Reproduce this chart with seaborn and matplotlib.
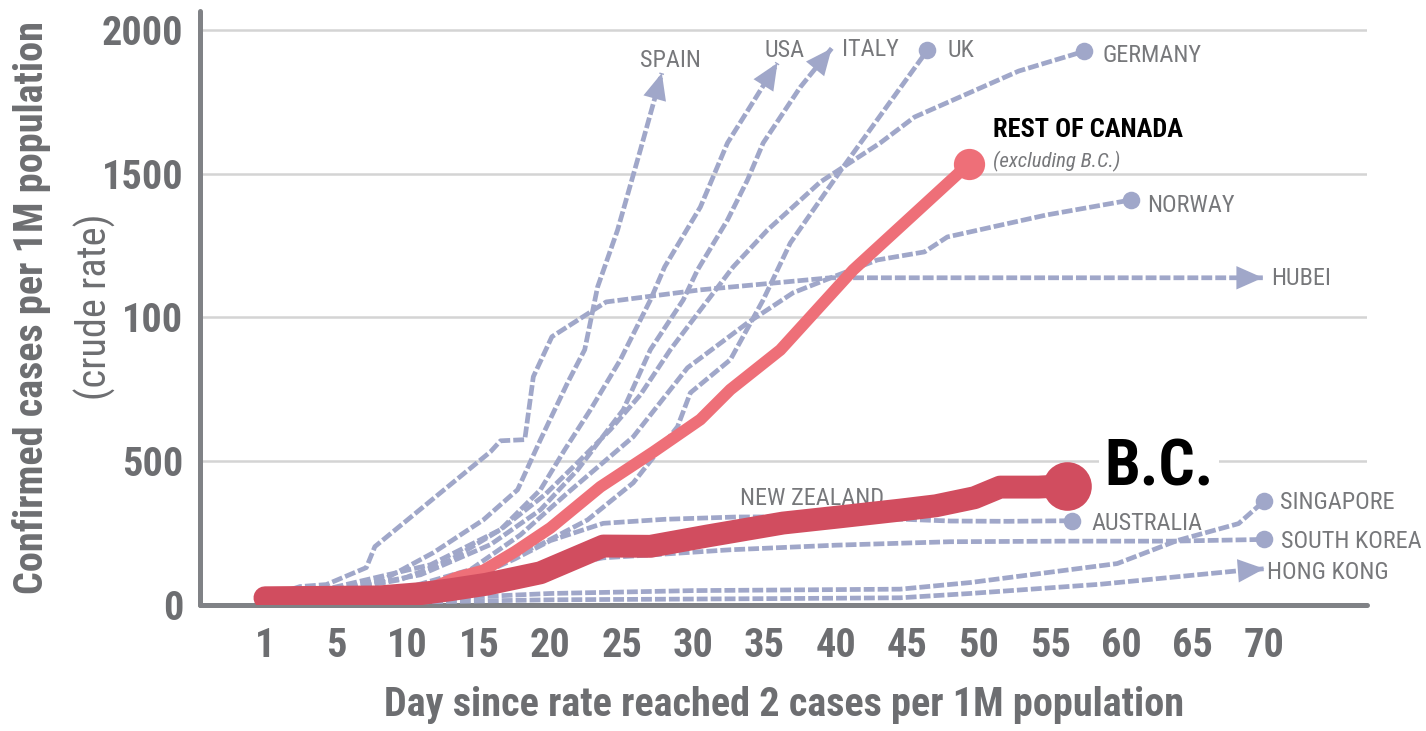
import matplotlib
matplotlib.use("Agg")
import matplotlib.pyplot as plt
import seaborn as sns
import pandas as pd
from matplotlib import font_manager as fm

# ---------------- data ----------------
x_ticks = [0, 5, 10, 15, 20, 25, 30, 35, 40, 45, 50, 55, 60, 65, 70]
x_tick_labels = ["1", "5", "10", "15", "20", "25", "30", "35", "40", "45", "50", "55", "60", "65", "70"]
y_ticks = [0, 500, 1000, 1500, 2000]
y_tick_labels = ["0", "500", "100", "1500", "2000"]

spain_day = [0, 8.3, 11.8, 15.3, 17.7, 19.3, 21.2, 22.4, 23.3, 24.7, 26.3, 27.8]
spain_rate = [5, 88, 182, 296, 401, 575, 773, 888, 1106, 1304, 1583, 1850]

usa_day = [0, 9.5, 13.0, 16.5, 19.3, 21.0, 22.8, 24.9, 27.0, 28.0, 30.5, 32.4, 35.9]
usa_rate = [5, 88, 157, 262, 401, 540, 679, 853, 1061, 1176, 1384, 1607, 1885]

italy_day = [0, 10.9, 15.8, 19.3, 21.9, 23.5, 25.1, 27.0, 29.3, 30.3, 32.4, 33.8, 34.9, 37.5, 39.7]
italy_rate = [5, 105, 210, 331, 470, 575, 679, 888, 1061, 1165, 1339, 1478, 1607, 1801, 1936]

uk_day = [0, 9.5, 15.1, 19.3, 22.6, 25.8, 28.9, 29.8, 32.6, 34.9, 36.8, 40.5, 46.4]
uk_rate = [5, 53, 123, 210, 296, 425, 620, 738, 853, 1061, 1259, 1523, 1929]

germany_day = [0, 11.6, 16.5, 19.6, 22.1, 24.2, 26.3, 28.4, 30.5, 32.8, 35.2, 38.9, 43.1, 45.5, 52.8, 57.4]
germany_rate = [5, 140, 262, 383, 505, 610, 731, 888, 1026, 1176, 1304, 1471, 1607, 1697, 1857, 1926]

norway_day = [0, 9.5, 14.4, 17.9, 21.2, 25.8, 29.6, 33.8, 37.0, 39.8, 42.9, 46.2, 47.8, 54.7, 60.7]
norway_rate = [5, 53, 123, 244, 390, 585, 825, 981, 1086, 1141, 1200, 1228, 1280, 1356, 1409]

hubei_day = [0, 2.45, 4.3, 7.1, 7.7, 15.8, 16.5, 18.2, 18.8, 20.1, 23.9, 30.5, 39.6, 69.9]
hubei_rate = [25, 64, 71, 130, 203, 533, 571, 575, 794, 933, 1054, 1096, 1138, 1138]

nz_day = [0, 10, 15, 20, 24, 28, 33, 38, 43, 46]
nz_rate = [5, 25, 60, 140, 200, 208, 248, 280, 310, 322]

aus_day = [0, 9.5, 14.4, 17.5, 20.0, 23.7, 28.0, 33.0, 40.0, 48.0, 52.0, 56.5]
aus_rate = [5, 40, 90, 160, 224, 284, 298, 306, 307, 292, 291, 293]

sing_day = [0, 10, 20, 30, 44.5, 49.4, 59.7, 63.9, 68.2, 70.0]
sing_rate = [5, 18, 40, 50, 55, 78, 144, 224, 283, 362]

sk_day = [0, 10, 15, 19, 23.7, 27, 32.6, 40, 48, 56, 63.5, 70]
sk_rate = [5, 30, 70, 120, 164, 174, 192, 208, 220, 222, 222, 228]

hk_day = [0, 10, 20, 35, 44.5, 49.4, 58.5, 68.2, 70.0]
hk_rate = [3, 10, 18, 22, 25, 40, 72, 119, 126]

roc_day = [0, 8, 11, 13.4, 15.3, 17.5, 20, 23.5, 27.2, 30.5, 32.6, 36.1, 41.2, 49.3]
roc_rate = [25, 30, 45, 95, 120, 185, 268, 411, 532, 645, 749, 887, 1165, 1534]

bc_day = [0, 8, 11, 13, 15.5, 19.3, 23.7, 27, 31, 36.3, 40, 44.5, 47, 49.7, 51.5, 54.2, 56.2]
bc_rate = [25, 28, 40, 53, 72, 112, 205, 204, 240, 285, 305, 330, 345, 373, 410, 410, 415]

countries = {
    "SPAIN": (spain_day, spain_rate),
    "USA": (usa_day, usa_rate),
    "ITALY": (italy_day, italy_rate),
    "UK": (uk_day, uk_rate),
    "GERMANY": (germany_day, germany_rate),
    "NORWAY": (norway_day, norway_rate),
    "HUBEI": (hubei_day, hubei_rate),
    "NEW ZEALAND": (nz_day, nz_rate),
    "AUSTRALIA": (aus_day, aus_rate),
    "SINGAPORE": (sing_day, sing_rate),
    "SOUTH KOREA": (sk_day, sk_rate),
    "HONG KONG": (hk_day, hk_rate),
}
arrow_end = ["SPAIN", "USA", "ITALY", "HUBEI", "HONG KONG"]
dot_end = ["UK", "GERMANY", "NORWAY", "AUSTRALIA", "SINGAPORE", "SOUTH KOREA"]

# label placement (data coords)
label_pos = {
    "SPAIN": (26.3, 1904), "USA": (35.0, 1937), "ITALY": (40.4, 1940), "UK": (47.8, 1937),
    "GERMANY": (58.7, 1921), "NORWAY": (61.8, 1398), "HUBEI": (70.5, 1145),
    "NEW ZEALAND": (33.3, 380), "AUSTRALIA": (57.9, 293), "SINGAPORE": (71.1, 366),
    "SOUTH KOREA": (71.2, 230), "HONG KONG": (70.2, 123),
}

# ---------------- style ----------------
sns.set_style("white")
avail = {f.name for f in fm.fontManager.ttflist}
cond = None
for n in ["Liberation Sans Narrow", "Roboto Condensed", "Open Sans Condensed",
          "Noto Sans Condensed", "DejaVu Sans Condensed"]:
    if n in avail:
        cond = n
        break
if cond is None:
    plt.rcParams["font.stretch"] = "condensed"
    cond = "DejaVu Sans"
plt.rcParams["font.family"] = [cond, "DejaVu Sans"]

LAV = "#a0a7c9"
ROC = "#ee6f78"
BC = "#d14d5f"
GRAY = "#6d6e71"
LGRAY = "#77787b"
AX = "#808286"

fig = plt.figure(figsize=(14.26, 7.31), dpi=100)
ax = fig.add_axes([0.14025, 0.1724, 0.8184, 0.8126])

rows = []
for name, (d, r) in countries.items():
    for a, b in zip(d, r):
        rows.append((name, a, b))
df = pd.DataFrame(rows, columns=["country", "day", "rate"])

sns.lineplot(data=df, x="day", y="rate", units="country", estimator=None, sort=False,
             color=LAV, linewidth=3.4, linestyle=(0, (2.3, 0.65)), ax=ax, zorder=3, legend=False)

dots = pd.DataFrame([(n, countries[n][0][-1], countries[n][1][-1]) for n in dot_end],
                    columns=["country", "day", "rate"])
sns.scatterplot(data=dots, x="day", y="rate", color=LAV, s=160, linewidth=0, ax=ax, zorder=4, legend=False)

for n in arrow_end:
    d, r = countries[n]
    ax.annotate("", xy=(d[-1], r[-1]), xytext=(d[-2], r[-2]),
                arrowprops=dict(arrowstyle="-|>,head_length=0.95,head_width=0.42",
                                color=LAV, lw=0.01, shrinkA=0, shrinkB=0, mutation_scale=20),
                zorder=4)

roc_df = pd.DataFrame({"day": roc_day, "rate": roc_rate})
bc_df = pd.DataFrame({"day": bc_day, "rate": bc_rate})
sns.lineplot(data=roc_df, x="day", y="rate", color=ROC, lw=8.5, ax=ax, zorder=6,
             solid_capstyle="round", solid_joinstyle="round", estimator=None, sort=False)
ax.scatter([roc_day[-1]], [roc_rate[-1]], s=22.5 ** 2, color=ROC, zorder=6, linewidths=0)
sns.lineplot(data=bc_df, x="day", y="rate", color=BC, lw=16.5, ax=ax, zorder=7,
             solid_capstyle="round", solid_joinstyle="round", estimator=None, sort=False)
ax.scatter([bc_day[-1]], [bc_rate[-1]], s=35 ** 2, color=BC, zorder=7, linewidths=0)

for n, (x, y) in label_pos.items():
    ax.text(x, y, n, fontsize=17.5, color=LGRAY, ha="left", va="center_baseline", zorder=5)

ax.text(51.0, 1662, "REST OF CANADA", fontsize=19, fontweight="bold", color="black",
        ha="left", va="center_baseline", zorder=8)
ax.text(51.0, 1552, "(excluding B.C.)", fontsize=15, style="italic", color=LGRAY,
        ha="left", va="center_baseline", zorder=8)
ax.text(58.8, 498, "B.C.", fontsize=46, fontweight="bold", color="black",
        ha="left", va="center_baseline", zorder=8,
        bbox=dict(boxstyle="square,pad=0.08", fc="white", ec="none"))

# axes
ax.set_xlim(-4.55, 77.2)
ax.set_ylim(0, 2066)
ax.set_xticks(x_ticks)
ax.set_xticklabels(x_tick_labels)
ax.set_yticks(y_ticks)
ax.set_yticklabels(y_tick_labels)
ax.set_xlabel("")
ax.set_ylabel("")
ax.tick_params(axis="both", length=0, labelcolor=GRAY, labelsize=29)
ax.tick_params(axis="x", pad=16)
ax.tick_params(axis="y", pad=12)
for t in ax.get_xticklabels() + ax.get_yticklabels():
    t.set_fontweight("bold")

ax.yaxis.grid(True, color="#d4d4d4", lw=1.8)
ax.xaxis.grid(False)
ax.set_axisbelow(True)
for s in ["top", "right"]:
    ax.spines[s].set_visible(False)
for s in ["left", "bottom"]:
    ax.spines[s].set_color(AX)
    ax.spines[s].set_linewidth(3.6)
    ax.spines[s].set_capstyle("round")
    ax.spines[s].set_zorder(2)

fig.text(0.55, 0.036, "Day since rate reached 2 cases per 1M population", fontsize=29,
         fontweight="bold", color=GRAY, ha="center", va="center")
fig.text(0.0224, 0.58, "Confirmed cases per 1M population", fontsize=29, fontweight="bold",
         color=GRAY, ha="center", va="center", rotation=90)
fig.text(0.0666, 0.58, "(crude rate)", fontsize=29, color=GRAY, ha="center", va="center", rotation=90)

fig.savefig("out.png", dpi=100, facecolor="white")
